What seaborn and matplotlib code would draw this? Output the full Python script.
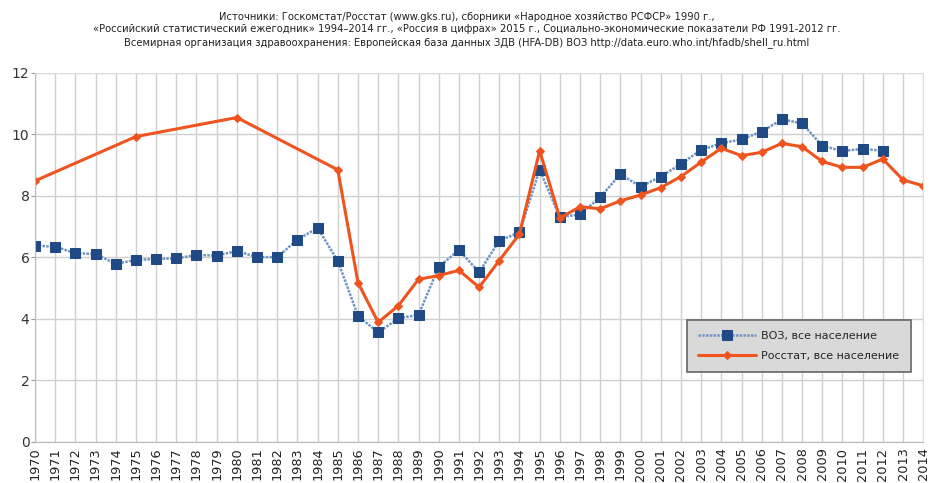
import numpy as np
import pandas as pd
import matplotlib
matplotlib.use("Agg")
import matplotlib.pyplot as plt
import seaborn as sns

# Годы и значения (литров на душу населения)
years = list(range(1970, 2015))

who_years = list(range(1970, 2013))
who_values = [6.38, 6.35, 6.14, 6.11, 5.79, 5.92, 5.95, 5.97, 6.08, 6.06,
              6.21, 6.01, 6.01, 6.58, 6.96, 5.89, 4.10, 3.56, 4.02, 4.13,
              5.69, 6.24, 5.52, 6.54, 6.82, 8.85, 7.31, 7.40, 7.96, 8.71,
              8.30, 8.63, 9.04, 9.50, 9.71, 9.84, 10.09, 10.49, 10.36, 9.63,
              9.46, 9.53, 9.47]

rosstat_years = [1970, 1975, 1980] + list(range(1985, 2015))
rosstat_values = [8.49, 9.93, 10.55, 8.85, 5.18, 3.89, 4.43, 5.29, 5.41, 5.58,
                  5.03, 5.90, 6.76, 9.47, 7.28, 7.65, 7.58, 7.84, 8.03, 8.27,
                  8.63, 9.10, 9.55, 9.31, 9.42, 9.71, 9.60, 9.12, 8.93, 8.93,
                  9.20, 8.52, 8.33]

y_ticks = [0, 2, 4, 6, 8, 10, 12]

subtitle = ("Источники: Госкомстат/Росстат (www.gks.ru), сборники «Народное хозяйство РСФСР» 1990 г.,\n"
            "«Российский статистический ежегодник» 1994–2014 гг., «Россия в цифрах» 2015 г., "
            "Социально-экономические показатели РФ 1991-2012 гг.\n"
            "Всемирная организация здравоохранения: Европейская база данных ЗДВ (HFA-DB) ВОЗ "
            "http://data.euro.who.int/hfadb/shell_ru.html")

df_who = pd.DataFrame({"year": who_years, "value": who_values})
df_ros = pd.DataFrame({"year": rosstat_years, "value": rosstat_values})

sns.set_style("whitegrid")
plt.rcParams['font.family'] = ['DejaVu Sans']

fig = plt.figure(figsize=(9.33, 4.83), dpi=100)
ax = fig.add_axes([0.0375, 0.085, 0.952, 0.764])

sns.lineplot(data=df_who, x="year", y="value", ax=ax, color="#6f93c2",
             linewidth=1.8, marker="s", markersize=6.5, markerfacecolor="#1f4a85",
             markeredgecolor="#1f4a85", label="ВОЗ, все население")
sns.lineplot(data=df_ros, x="year", y="value", ax=ax, color="#f0541e",
             linewidth=2.2, marker="D", markersize=4, markerfacecolor="#f0541e",
             markeredgecolor="#f0541e", label="Росстат, все население")

# пунктир для линии ВОЗ
ax.lines[0].set_linestyle((0, (1.0, 0.5)))

ax.set_xlim(1970, 2014)
ax.set_ylim(0, 12)
ax.set_xticks(years)
ax.set_xticklabels([str(y) for y in years], rotation=90, fontsize=9.3, color="#222222")
ax.set_yticks(y_ticks)
ax.set_yticklabels([str(v) for v in y_ticks], fontsize=10, color="#333333")
ax.set_xlabel("")
ax.set_ylabel("")
ax.tick_params(axis="both", length=3, pad=1, color="#999999")
ax.tick_params(axis="x", pad=1)
ax.tick_params(axis="y", left=True)
ax.grid(True, color="#cfcfcf", linewidth=1)

for side in ["top", "right"]:
    ax.spines[side].set_color("#dddddd")
ax.spines["left"].set_color("#bbbbbb")
ax.spines["bottom"].set_color("#bbbbbb")

leg = ax.legend(loc="upper left", bbox_to_anchor=(0.734, 0.331), frameon=True,
                fontsize=8, handlelength=5.2, handletextpad=0.5, borderpad=1.0,
                labelspacing=0.9, fancybox=False, borderaxespad=0)
leg.get_frame().set_facecolor("#d9d9d9")
leg.get_frame().set_edgecolor("#666666")
leg.get_frame().set_linewidth(1.2)
leg.get_frame().set_alpha(1)

fig.text(0.5, 0.975, subtitle, ha="center", va="top", fontsize=7.2,
         color="#222222", linespacing=1.3)

fig.savefig("out.png", dpi=100)
